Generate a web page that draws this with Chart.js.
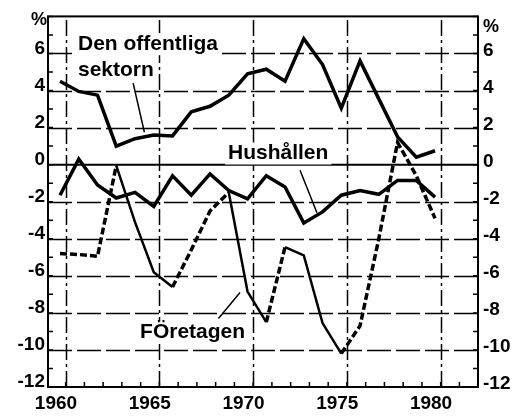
<!DOCTYPE html>
<html>
<head>
<meta charset="utf-8">
<script src="https://cdn.jsdelivr.net/npm/chart.js@4.4.0/dist/chart.umd.min.js"></script>
<style>
  html, body { margin: 0; padding: 0; background: #fff; }
  canvas { display: block; }
</style>
</head>
<body>
<canvas id="chart" width="521" height="418"></canvas>
<script>
// data (% of GDP, financial saving by sector)
const years = [1960, 1961, 1962, 1963, 1964, 1965, 1966, 1967, 1968, 1969, 1970,
               1971, 1972, 1973, 1974, 1975, 1976, 1977, 1978, 1979, 1980];
const offentliga = [4.5, 3.95, 3.75, 1.0, 1.4, 1.6, 1.55, 2.85, 3.15, 3.75, 4.9,
                    5.15, 4.5, 6.8, 5.4, 3.05, 5.6, 3.55, 1.5, 0.4, 0.75];
const hushallen = [-1.65, 0.3, -1.1, -1.8, -1.5, -2.25, -0.6, -1.65, -0.5, -1.4, -1.85,
                   -0.6, -1.2, -3.15, -2.55, -1.65, -1.4, -1.6, -0.85, -0.85, -1.75];
const foretagen = [-4.8, -4.85, -4.95, -0.05, -3.1, -5.8, -6.6, -4.6, -2.5, -1.5, -6.85,
                   -8.5, -4.45, -4.9, -8.55, -10.2, -8.7, -4.0, 1.2, -0.6, -2.9];
// segments of the Företagen curve that print as a thin solid stroke
const foretagenSolidFrom = [1963, 1964, 1965, 1969, 1970, 1972, 1973, 1974];

const xTicks = [1960, 1965, 1970, 1975, 1980];
const yTicks = [-12, -10, -8, -6, -4, -2, 0, 2, 4, 6];

const notes = [
  { text: 'Den offentliga', x: 1960.96, y: 6.5 },
  { text: 'sektorn', x: 1960.96, y: 5.1 },
  { text: 'Hushållen', x: 1968.96, y: 0.6 },
  { text: 'FÖretagen', x: 1964.27, y: -9.06 }
];
const leaders = [
  [1963.9, 4.4, 1964.5, 1.75],
  [1972.8, -0.3, 1973.7, -2.6],
  [1968.45, -8.3, 1969.6, -6.9]
];
// the printed vertical grid sits a little to the right of the year marks
const gridShift = 0.3;

const font = { family: '"Liberation Sans", Arial, sans-serif', size: 19, weight: 'bold' };
const pts = vals => years.map((yr, i) => ({ x: yr, y: vals[i] }));

const decor = {
  id: 'decor',
  beforeDatasetsDraw(chart) {
    const { ctx, chartArea: a, scales: { x, y } } = chart;
    ctx.save();
    ctx.strokeStyle = '#000';

    // dashed grid
    ctx.lineWidth = 1.5;
    ctx.setLineDash([24, 5]);
    ctx.beginPath();
    yTicks.forEach(v => {
      if (v === 0 || v === y.min) return;
      const py = Math.round(y.getPixelForValue(v)) + 0.5;
      ctx.moveTo(a.left, py);
      ctx.lineTo(a.right, py);
    });
    ctx.stroke();
    ctx.setLineDash([16, 4, 3, 4]);
    ctx.beginPath();
    xTicks.forEach(v => {
      const px = Math.round(x.getPixelForValue(v + gridShift)) + 0.5;
      ctx.moveTo(px, a.bottom);
      ctx.lineTo(px, a.top);
    });
    ctx.stroke();
    ctx.setLineDash([]);

    ctx.lineWidth = 2;
    const y0 = y.getPixelForValue(0);
    ctx.beginPath();
    ctx.moveTo(a.left, y0);
    ctx.lineTo(a.right, y0);
    ctx.stroke();
    ctx.strokeRect(a.left, a.top, a.right - a.left, a.bottom - a.top);

    // small inward ticks
    ctx.lineWidth = 1.5;
    ctx.beginPath();
    for (let v = Math.ceil(x.min); v <= x.max; v++) {
      const px = x.getPixelForValue(v + gridShift);
      ctx.moveTo(px, a.bottom);
      ctx.lineTo(px, a.bottom - 5);
    }
    for (let v = y.min; v <= y.max; v++) {
      const py = y.getPixelForValue(v);
      ctx.moveTo(a.left, py);
      ctx.lineTo(a.left + 5, py);
      ctx.moveTo(a.right, py);
      ctx.lineTo(a.right - 5, py);
    }
    ctx.stroke();

    // labels inside the plot
    ctx.font = 'bold 21px "Liberation Sans", Arial, sans-serif';
    ctx.textBaseline = 'middle';
    notes.forEach(n => {
      const px = x.getPixelForValue(n.x), py = y.getPixelForValue(n.y);
      const w = ctx.measureText(n.text).width;
      ctx.fillStyle = '#fff';
      ctx.fillRect(px - 3, py - 11, w + 6, 22);
      ctx.fillStyle = '#000';
      ctx.fillText(n.text, px, py);
    });
    ctx.lineWidth = 1.5;
    ctx.beginPath();
    leaders.forEach(l => {
      ctx.moveTo(x.getPixelForValue(l[0]), y.getPixelForValue(l[1]));
      ctx.lineTo(x.getPixelForValue(l[2]), y.getPixelForValue(l[3]));
    });
    ctx.stroke();

    // % units
    ctx.font = 'bold 18px "Liberation Sans", Arial, sans-serif';
    ctx.textAlign = 'right';
    ctx.fillText('%', a.left - 1, a.top + 4);
    ctx.textAlign = 'left';
    ctx.fillText('%', a.right + 5, a.top + 11);
    ctx.restore();
  }
};

const isSolid = c => foretagenSolidFrom.includes(years[c.p0DataIndex]);

new Chart(document.getElementById('chart'), {
  type: 'line',
  data: {
    datasets: [
      {
        label: 'Den offentliga sektorn',
        data: pts(offentliga),
        borderColor: '#000',
        borderWidth: 3.5,
        pointRadius: 0,
        tension: 0
      },
      {
        label: 'Hushållen',
        data: pts(hushallen),
        borderColor: '#000',
        borderWidth: 3.5,
        pointRadius: 0,
        tension: 0
      },
      {
        label: 'Företagen',
        data: pts(foretagen),
        borderColor: '#000',
        borderWidth: 3.5,
        borderDash: [7, 3],
        pointRadius: 0,
        tension: 0,
        segment: {
          borderDash: c => isSolid(c) ? [] : [7, 3],
          borderWidth: c => isSolid(c) ? 2.5 : 3.5
        }
      }
    ]
  },
  options: {
    responsive: false,
    animation: false,
    devicePixelRatio: 1,
    layout: { padding: { top: 13, left: 0, right: 0, bottom: 0 } },
    plugins: { legend: { display: false }, tooltip: { enabled: false } },
    scales: {
      x: {
        type: 'linear',
        min: 1959.36,
        max: 1982.29,
        afterBuildTicks: s => { s.ticks = xTicks.map(v => ({ value: v })); },
        afterFit: s => { s.height = 31; },
        ticks: { font, color: '#000', padding: 5, labelOffset: -4, maxRotation: 0, autoSkip: false,
                 callback: v => String(v) },
        grid: { display: false, drawTicks: false },
        border: { display: false }
      },
      y: {
        min: -12,
        max: 8,
        position: 'left',
        afterBuildTicks: s => { s.ticks = yTicks.map(v => ({ value: v })); },
        afterFit: s => { s.width = 48; },
        ticks: { font, color: '#000', padding: 3, labelOffset: -5, callback: v => String(v) },
        grid: { display: false, drawTicks: false },
        border: { display: false }
      },
      y2: {
        min: -12,
        max: 8,
        position: 'right',
        afterBuildTicks: s => { s.ticks = yTicks.map(v => ({ value: v })); },
        afterFit: s => { s.width = 43; },
        ticks: { font, color: '#000', padding: 5, labelOffset: -3, callback: v => String(v) },
        grid: { display: false, drawTicks: false },
        border: { display: false }
      }
    }
  },
  plugins: [decor]
});
</script>
</body>
</html>
